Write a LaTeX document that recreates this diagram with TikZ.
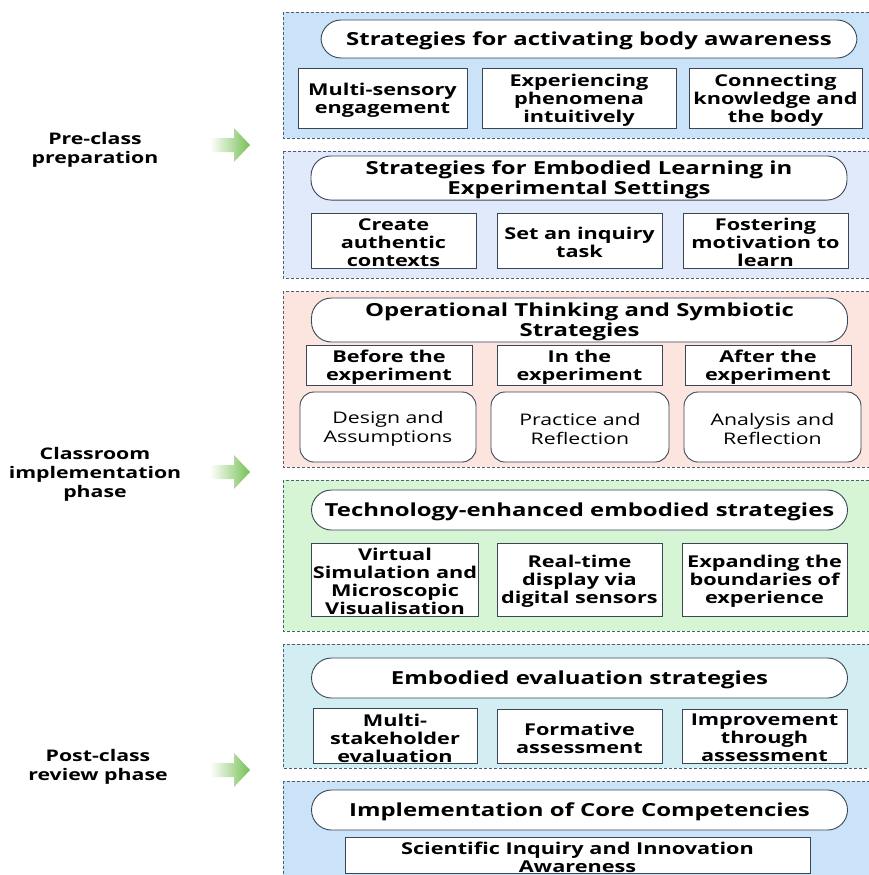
\documentclass[tikz,border=0pt]{standalone}
\usepackage{fontspec}
\setmainfont{Open Sans}[FakeStretch=1.33]
\usetikzlibrary{calc}

\definecolor{panelblue}{HTML}{CBE3F9}
\definecolor{panellav}{HTML}{E0EAFA}
\definecolor{panelpink}{HTML}{FCE5DE}
\definecolor{panelgreen}{HTML}{D6F5D4}
\definecolor{panelcyan}{HTML}{D3EEF3}
\definecolor{framegray}{HTML}{4F5D73}
\definecolor{boxline}{HTML}{3A4656}
\definecolor{arrowgreen}{HTML}{74C052}

\tikzset{
  % extra space above the text pushes it a little down in its box
  lowtext/.style={execute at begin node={\vbox\bgroup\kern#1\hbox\bgroup},
    execute at end node={\egroup\egroup}},
  panel/.style={draw=framegray, dash pattern=on 3pt off 2pt, line width=0.8pt},
  pill/.style={draw=boxline, fill=white, line width=0.9pt, rounded corners=20pt,
    minimum width=536pt, minimum height=40pt, inner sep=1pt, align=center,
    font=\fontsize{18}{20}\selectfont\bfseries, lowtext=4pt},
  item/.style={draw=boxline, fill=white, line width=0.9pt, inner sep=1pt, align=center,
    font=\fontsize{16.3}{18}\selectfont\bfseries, lowtext=4pt},
  itemr/.style={item, rounded corners=14pt, font=\fontsize{16}{18.5}\selectfont},
  phase/.style={align=center, font=\fontsize{16}{19}\selectfont\bfseries}
}

\begin{document}
\begin{tikzpicture}[x=1pt,y=-1pt]
  \useasboundingbox (0,0) rectangle (868,875);

  % background panels
  \draw[panel, fill=panelblue]  (283,12)  rectangle (875,138);
  \draw[panel, fill=panellav]   (283,151) rectangle (875,278);
  \draw[panel, fill=panelpink]  (283,291) rectangle (875,467);
  \draw[panel, fill=panelgreen] (283,480) rectangle (875,631);
  \draw[panel, fill=panelcyan]  (283,644) rectangle (875,768);
  \draw[panel, fill=panelblue]  (283,781) rectangle (875,885);

  % phases on the left
  \node[phase] (pre) at (95,150) {Pre-class\\preparation};
  \node[phase] (cls) at (95,474) {Classroom\\implementation\\phase};
  \node[phase] (post) at (98,767) {Post-class\\review phase};
  \foreach \y in {145,472,770}
    \shade[left color=white, right color=arrowgreen]
      (210,\y-7) -- (234,\y-7) -- (234,\y-17) -- (250,\y) -- (234,\y+17)
      -- (234,\y+7) -- (210,\y+7) -- cycle;

  % body awareness
  \node[pill, minimum height=38pt] (aware) at (589,39) {Strategies for activating body awareness};
  \node[item, minimum width=169pt, minimum height=60pt] (aw1) at (382.5,98) {Multi-sensory\\engagement};
  \node[item, minimum width=194pt, minimum height=60pt] (aw2) at (579,98) {Experiencing\\phenomena\\intuitively};
  \node[item, minimum width=173pt, minimum height=60pt] (aw3) at (775.5,98) {Connecting\\knowledge and\\the body};

  % experimental settings
  \node[pill] (lab) at (579,178) {Strategies for Embodied Learning in\\Experimental Settings};
  \node[item, minimum width=165pt, minimum height=55pt] (lb1) at (393.5,240.5) {Create\\authentic\\contexts};
  \node[item, minimum width=165pt, minimum height=55pt] (lb2) at (579.5,240.5) {Set an inquiry\\task};
  \node[item, minimum width=165pt, minimum height=55pt] (lb3) at (765.5,240.5) {Fostering\\motivation to\\learn};

  % operational thinking
  \node[pill, minimum height=42pt] (ops) at (579.5,320) {Operational Thinking and Symbiotic\\Strategies};
  \node[item, minimum width=166pt, minimum height=37pt] (op1) at (389,365.5) {Before the\\experiment};
  \node[item, minimum width=165pt, minimum height=37pt] (op2) at (579.5,365.5) {In the\\experiment};
  \node[item, minimum width=166pt, minimum height=37pt] (op3) at (768,365.5) {After the\\experiment};
  \node[itemr, minimum width=176pt, minimum height=70pt] (or1) at (388,427) {Design and\\Assumptions};
  \node[itemr, minimum width=178pt, minimum height=70pt] (or2) at (580,427) {Practice and\\Reflection};
  \node[itemr, minimum width=177pt, minimum height=70pt] (or3) at (772.5,427) {Analysis and\\Reflection};

  % technology
  \node[pill] (tech) at (579.5,510) {Technology-enhanced embodied strategies};
  \node[item, minimum width=164pt, minimum height=73pt] (tc1) at (395,579.5) {Virtual\\Simulation and\\Microscopic\\Visualisation};
  \node[item, minimum width=165pt, minimum height=73pt] (tc2) at (579.5,579.5) {Real-time\\display via\\digital sensors};
  \node[item, minimum width=165pt, minimum height=73pt] (tc3) at (764.5,579.5) {Expanding the\\boundaries of\\experience};

  % evaluation
  \node[pill] (eval) at (579.5,678) {Embodied evaluation strategies};
  \node[item, minimum width=164pt, minimum height=54pt] (ev1) at (395,736) {Multi-\\stakeholder\\evaluation};
  \node[item, minimum width=165pt, minimum height=54pt] (ev2) at (579.5,736) {Formative\\assessment};
  \node[item, minimum width=165pt, minimum height=54pt] (ev3) at (764.5,736) {Improvement\\through\\assessment};

  % core competencies
  \node[pill] (core) at (579.5,810) {Implementation of Core Competencies};
  \node[item, minimum width=465pt, minimum height=35pt] (cc1) at (577.5,855.5) {Scientific Inquiry and Innovation\\Awareness};
\end{tikzpicture}
\end{document}
